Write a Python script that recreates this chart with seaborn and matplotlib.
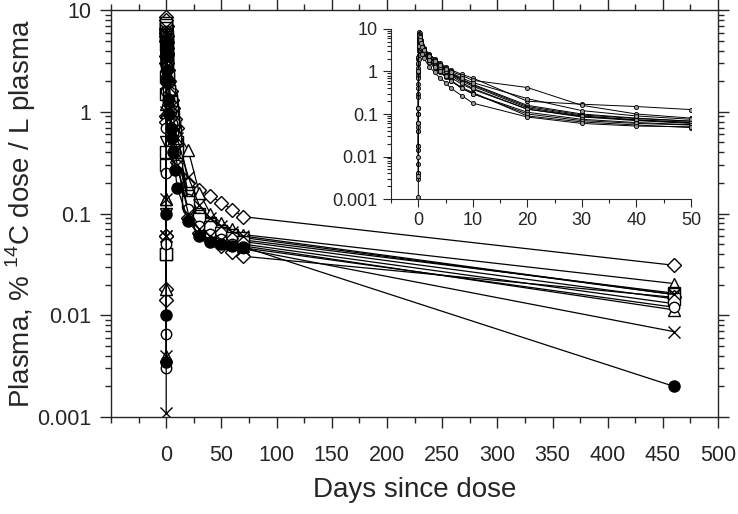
import numpy as np
import pandas as pd
import matplotlib
matplotlib.use("Agg")
import matplotlib.pyplot as plt
import matplotlib.ticker as mticker
import seaborn as sns

sns.set_style("ticks")
plt.rcParams['font.family'] = ['Liberation Sans', 'DejaVu Sans']
plt.rcParams['mathtext.fontset'] = 'custom'
plt.rcParams['mathtext.rm'] = 'Liberation Sans'

# sampling times (days since dose)
days = [0.01, 0.02, 0.04, 0.08, 0.12, 0.17, 0.25, 0.33, 0.5, 0.75,
        1, 2, 3, 4, 5, 6, 8, 10, 20, 30, 40, 50, 60, 70, 460]

# plasma % 14C dose / L plasma, one list per subject
subj01 = [0.014, 0.06, 0.9, 3.5, 6.5, 8.5, 8.0, 7.0, 5.5, 4.2, 3.6, 2.6, 2.0, 1.6, 1.3, 1.1, 0.85, 0.7, 0.2, 0.17, 0.15, 0.127, 0.109, 0.093, 0.031]
subj02 = [0.004, 0.14, 1.2, 4.0, 6.0, 7.2, 6.8, 6.0, 5.0, 4.0, 3.4, 2.5, 1.9, 1.5, 1.2, 1.0, 0.8, 0.62, 0.42, 0.16, 0.1, 0.08, 0.07, 0.062, 0.0205]
subj03 = [0.04, 0.3, 1.5, 4.5, 6.0, 6.5, 6.0, 5.2, 4.2, 3.4, 2.9, 2.1, 1.6, 1.3, 1.05, 0.88, 0.65, 0.5, 0.16, 0.1, 0.08, 0.068, 0.06, 0.055, 0.0165]
subj04 = [0.1, 0.5, 2.0, 5.0, 7.0, 7.5, 7.0, 6.0, 4.8, 3.8, 3.2, 2.3, 1.7, 1.35, 1.1, 0.9, 0.65, 0.48, 0.15, 0.095, 0.078, 0.068, 0.062, 0.058, 0.016]
subj05 = [0.018, 0.06, 0.8, 3.0, 5.0, 6.0, 5.6, 4.8, 3.8, 3.0, 2.5, 1.7, 1.2, 0.95, 0.75, 0.6, 0.42, 0.32, 0.09, 0.065, 0.055, 0.048, 0.042, 0.038, 0.015]
subj06 = [0.0065, 0.25, 1.6, 4.5, 6.5, 7.0, 6.5, 5.5, 4.4, 3.5, 3.0, 2.2, 1.65, 1.3, 1.05, 0.85, 0.6, 0.45, 0.14, 0.09, 0.072, 0.062, 0.055, 0.05, 0.013]
subj07 = [0.018, 0.14, 1.0, 3.8, 5.5, 6.2, 5.8, 5.0, 4.0, 3.2, 2.7, 1.9, 1.4, 1.1, 0.9, 0.72, 0.5, 0.38, 0.13, 0.085, 0.07, 0.06, 0.053, 0.048, 0.0113]
subj08 = [0.04, 0.4, 2.2, 5.5, 7.0, 7.2, 6.6, 5.6, 4.5, 3.6, 3.1, 2.2, 1.6, 1.25, 1.0, 0.8, 0.55, 0.4, 0.13, 0.088, 0.073, 0.064, 0.058, 0.053, 0.0145]
subj09 = [0.003, 0.05, 0.7, 3.2, 5.2, 6.2, 6.0, 5.2, 4.2, 3.3, 2.8, 1.9, 1.35, 1.0, 0.78, 0.62, 0.4, 0.3, 0.11, 0.075, 0.063, 0.056, 0.05, 0.046, 0.012]
subj10 = [0.0011, 0.004, 0.06, 2.5, 4.5, 5.8, 5.8, 5.2, 4.2, 3.3, 2.8, 1.9, 1.3, 1.0, 0.78, 0.6, 0.4, 0.3, 0.1, 0.07, 0.06, 0.055, 0.05, 0.045, 0.0069]
subj11 = [0.0035, 0.01, 0.1, 2.0, 4.0, 5.0, 5.0, 4.4, 3.5, 2.6, 2.1, 1.3, 0.95, 0.7, 0.55, 0.4, 0.27, 0.18, 0.085, 0.06, 0.052, 0.05, 0.048, 0.047, 0.002]
subj12 = [0.06, 0.14, 1.0, 4.0, 6.0, 6.8, 6.4, 5.6, 4.6, 3.7, 3.2, 2.3, 1.75, 1.4, 1.15, 0.95, 0.7, 0.55, 0.23, 0.12, 0.09, 0.075, 0.066, 0.06, 0.016]

subjects = [subj01, subj02, subj03, subj04, subj05, subj06,
            subj07, subj08, subj09, subj10, subj11, subj12]
markers = ['D', '^', 's', 'v', 'D', 'o', '^', 's', 'o', 'x', 'o', 'x']
filled = [False] * 10 + [True, False]
msizes = [7, 8, 8, 8, 7, 7.5, 8, 8, 7.5, 9, 8, 9]

rows = []
for i, vals in enumerate(subjects):
    for d, v in zip(days, vals):
        rows.append({'subject': i, 'day': d, 'conc': v})
df = pd.DataFrame(rows)

fig = plt.figure(figsize=(7.38, 5.14), dpi=100)
ax = fig.add_axes([0.1504, 0.1887, 0.8226, 0.7918])

for i in range(len(subjects)):
    sub = df[df['subject'] == i]
    sns.lineplot(data=sub, x='day', y='conc', ax=ax, color='black', lw=0.9,
                 marker=markers[i], ms=msizes[i],
                 mfc='black' if filled[i] else 'white', mec='black', mew=1.0,
                 estimator=None, sort=False, legend=False)

ax.set_yscale('log')
ax.set_ylim(0.001, 10)
ax.set_xlim(-50, 500)
ax.set_xticks(np.arange(0, 501, 50))
ax.xaxis.set_minor_locator(mticker.MultipleLocator(25))
ax.yaxis.set_major_formatter(mticker.FuncFormatter(lambda v, p: f"{v:g}"))
ax.yaxis.set_minor_locator(mticker.LogLocator(base=10, subs=np.arange(2, 10)))
ax.yaxis.set_minor_formatter(mticker.NullFormatter())
for s in ax.spines.values():
    s.set_visible(True)
    s.set_linewidth(1.0)
ax.tick_params(which='both', direction='out', top=True, right=True,
               labeltop=False, labelright=False, width=1.0, labelsize=15.5)
ax.tick_params(which='major', length=8)
ax.tick_params(which='minor', length=4)
ax.tick_params(axis='x', which='major', pad=12)
ax.tick_params(axis='y', which='major', pad=6)
ax.set_xlabel('Days since dose', fontsize=20, labelpad=8)
ax.set_ylabel('Plasma, % $^{14}$C dose / L plasma', fontsize=20)
ax.yaxis.set_label_coords(-0.12, 0.5)

# inset: first 50 days
ins = fig.add_axes([0.5298, 0.6128, 0.4065, 0.3308])
for i in range(len(subjects)):
    sub = df[df['subject'] == i]
    sns.lineplot(data=sub, x='day', y='conc', ax=ins, color='black', lw=0.7,
                 marker='o', ms=3, mfc='#999999', mec='black', mew=0.6,
                 estimator=None, sort=False, legend=False)
ins.set_yscale('log')
ins.set_ylim(0.001, 10)
ins.set_xlim(-5, 50)
ins.set_xticks(np.arange(0, 51, 10))
ins.xaxis.set_minor_locator(mticker.MultipleLocator(5))
ins.yaxis.set_major_formatter(mticker.FuncFormatter(lambda v, p: f"{v:g}"))
ins.yaxis.set_minor_locator(mticker.LogLocator(base=10, subs=np.arange(2, 10)))
ins.yaxis.set_minor_formatter(mticker.NullFormatter())
ins.spines['top'].set_visible(False)
ins.spines['right'].set_visible(False)
ins.tick_params(which='both', direction='out', width=0.8, labelsize=13)
ins.tick_params(which='major', length=6)
ins.tick_params(which='minor', length=3)
ins.set_xlabel('')
ins.set_ylabel('')
ins.set_facecolor('white')

fig.savefig('out.png', dpi=100)
